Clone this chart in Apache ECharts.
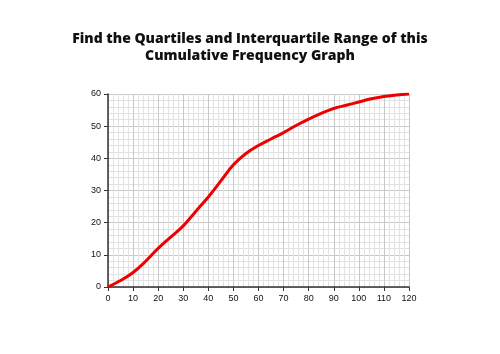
<html>
<head>
<meta charset="utf-8">
<title>Cumulative Frequency Graph</title>
<script src="https://cdn.jsdelivr.net/npm/echarts@6/dist/echarts.min.js"></script>
</head>
<body style="margin:0;background:#fff">
<div id="container" style="width:500px;height:354px"></div>
<script type="text/javascript">
    // values
    var xValues = [0, 5, 10, 15, 20, 25, 30, 35, 40, 45, 50, 55, 60, 65, 70, 75, 80, 85, 90, 95, 100, 105, 110, 115, 120];
    var cumFreq = [0, 2, 4.5, 8, 12, 15.5, 19, 23.5, 28, 33, 38, 41.5, 44, 46, 48, 50.2, 52.2, 54, 55.5, 56.5, 57.5, 58.5, 59.2, 59.7, 60];
    var titleLines = ['Find the Quartiles and Interquartile Range of this', 'Cumulative Frequency Graph'];

    var points = [];
    for (var i = 0; i < xValues.length; i++) {
        points.push([xValues[i], cumFreq[i]]);
    }

    var myChart = echarts.init(document.getElementById('container'));
    var option = {
        animation: false,
        title: {
            text: titleLines.join('\n'),
            left: 'center',
            top: 26,
            textStyle: {
                fontFamily: 'Open Sans',
                fontWeight: 800,
                fontSize: 14,
                lineHeight: 17,
                color: '#111'
            }
        },
        grid: {left: 108, right: 91, top: 94, bottom: 67},
        xAxis: {
            type: 'value',
            min: 0,
            max: 120,
            interval: 10,
            axisLine: {onZero: false, lineStyle: {color: '#333', width: 1.5}},
            axisTick: {show: true, length: 4, lineStyle: {color: '#333'}},
            axisLabel: {fontFamily: 'Liberation Sans', fontSize: 9, color: '#111', margin: 7},
            splitLine: {show: true, lineStyle: {color: '#c8c8c8', width: 1}},
            minorTick: {show: true, splitNumber: 5, length: 0},
            minorSplitLine: {show: true, lineStyle: {color: '#e2e2e2', width: 1}}
        },
        yAxis: {
            type: 'value',
            min: 0,
            max: 60,
            interval: 10,
            axisLine: {show: true, lineStyle: {color: '#333', width: 1.5}},
            axisTick: {show: true, length: 4, lineStyle: {color: '#333'}},
            axisLabel: {fontFamily: 'Liberation Sans', fontSize: 9, color: '#111', margin: 7},
            splitLine: {show: true, lineStyle: {color: '#c8c8c8', width: 1}},
            minorTick: {show: true, splitNumber: 5, length: 0},
            minorSplitLine: {show: true, lineStyle: {color: '#e2e2e2', width: 1}}
        },
        series: [
            {
                type: 'line',
                data: points,
                smooth: 0.4,
                showSymbol: false,
                lineStyle: {color: '#ee0000', width: 3},
                z: 5
            }
        ]
    };
    myChart.setOption(option, true);
</script>
</body>
</html>
